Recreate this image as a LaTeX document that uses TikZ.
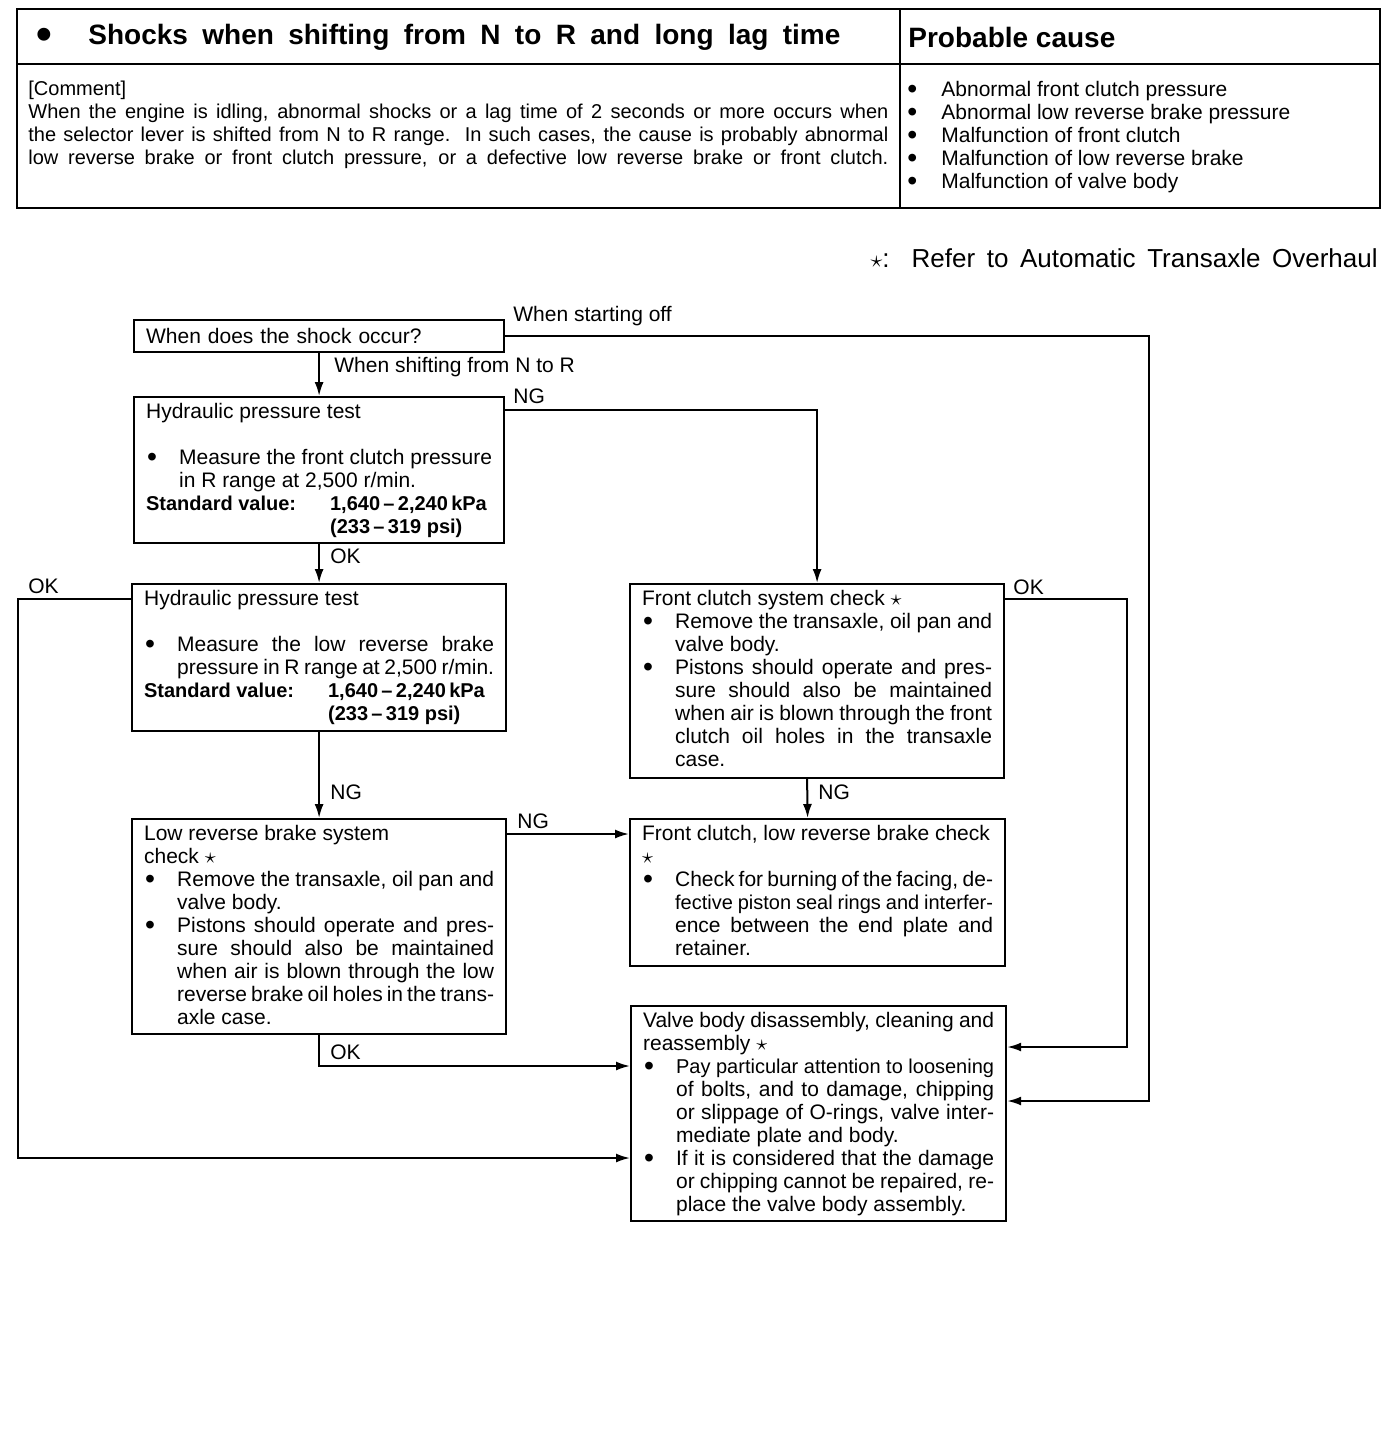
\documentclass[tikz,border=0pt]{standalone}
\usepackage{fontspec}
\setmainfont{Liberation Sans}
\usetikzlibrary{arrows.meta,positioning}

\newcommand{\bul}{\raisebox{-1.1pt}[0pt][0pt]{\scalebox{1.35}{\textbullet}}}
\newcommand{\bitem}{\par\hangindent=16.5pt\hangafter=1\noindent\hspace*{0.5pt}\makebox[16pt][l]{\bul}\ignorespaces}
\newcommand{\topbox}[3]{\parbox[t][#1][t]{#2}{\parindent=0pt #3}}
\newcommand{\tight}[1]{{\fontsize{10}{11.5}\selectfont #1}}
\newcommand{\stdval}{{\bfseries\fontsize{10}{11.5}\selectfont\makebox[92pt][l]{Standard value:}1,640\,–\,2,240\,kPa\par
  \hspace*{92pt}(233\,–\,319 psi)\par}}

\tikzset{
  chkbox/.style={draw, line width=1.1pt, anchor=north west, inner xsep=6pt, inner ysep=3pt,
    font=\fontsize{10.5}{11.5}\selectfont},
  lbl/.style={anchor=west, inner sep=0pt, font=\fontsize{10.5}{11.5}\selectfont},
  arr/.style={line width=1pt, -{Latex[length=7pt,width=4.5pt]}},
  ln/.style={line width=1.1pt},
}

\begin{document}
\begin{tikzpicture}[x=0.5pt,y=-0.5pt]
\useasboundingbox (0,0) rectangle (1392,1456);
% 表
\draw[ln] (17,9) rectangle (1380,208);
\draw[ln] (17,64) -- (1380,64);
\draw[ln] (900,9) -- (900,208);
\node[anchor=west, inner sep=0pt, font=\bfseries\fontsize{14}{16}\selectfont] (ttl) at (36,37)
  {\makebox[26pt][l]{\raisebox{-2.6pt}[0pt][0pt]{\scalebox{1.6}{\textbullet}}}\makebox[376pt][s]{Shocks when shifting from N to R and long lag time}};
\node[anchor=west, inner sep=0pt, font=\bfseries\fontsize{14}{16}\selectfont] (cause) at (908,37) {Probable cause};
\node[anchor=north west, inner sep=0pt, font=\fontsize{10}{11.5}\selectfont] (cmt) at (28,81)
  {\parbox[t]{430pt}{\parindent=0pt [Comment]\par
   {\parfillskip=0pt When the engine is idling, abnormal shocks or a lag time of 2 seconds or more occurs when\linebreak
   the selector lever is shifted from N to R range.\ \ In such cases, the cause is probably abnormal\linebreak
   low reverse brake or front clutch pressure, or a defective low reverse brake or front clutch.\par}}};
\node[anchor=north west, inner sep=0pt, font=\fontsize{10.5}{11.5}\selectfont] (causes) at (907,81)
  {\parbox[t]{230pt}{\parindent=0pt
   \makebox[17pt][l]{\bul}Abnormal front clutch pressure\\
   \makebox[17pt][l]{\bul}Abnormal low reverse brake pressure\\
   \makebox[17pt][l]{\bul}Malfunction of front clutch\\
   \makebox[17pt][l]{\bul}Malfunction of low reverse brake\\
   \makebox[17pt][l]{\bul}Malfunction of valve body}};
\node[anchor=east, inner sep=0pt, font=\fontsize{13}{15}\selectfont] (legend) at (1378,258)
  {$\star$:\hspace{11pt}\makebox[233pt][s]{Refer to Automatic Transaxle Overhaul}};

% 判定の箱
\node[chkbox, text width=173pt, minimum height=16pt, inner ysep=1pt] (qa) at (133,319) {When does the shock occur?};
\node[chkbox] (hpfront) at (133,396) {\topbox{67pt}{173pt}{%
  Hydraulic pressure test\par\mbox{}
  \bitem Measure the front clutch pressure\linebreak in R range at 2,500 r/min.\par
  \stdval}};
\node[chkbox] (hplow) at (131,583) {\topbox{67.5pt}{175pt}{%
  Hydraulic pressure test\par\mbox{}
  \bitem Measure the low reverse brake\linebreak pressure in R range at 2,500 r/min.\par
  \stdval}};
\node[chkbox] (fcsys) at (629,583) {\topbox{91pt}{175pt}{%
  Front clutch system check $\star$
  \bitem Remove the transaxle, oil pan and\linebreak valve body.
  \bitem Pistons should operate and pres-\linebreak sure should also be maintained\linebreak
  when air is blown through the front\linebreak clutch oil holes in the transaxle\linebreak case.}};
\node[chkbox] (lrsys) at (131,818) {\topbox{101.5pt}{175pt}{%
  Low reverse brake system\\ check $\star$
  \bitem Remove the transaxle, oil pan and\linebreak valve body.
  \bitem Pistons should operate and pres-\linebreak sure should also be maintained\linebreak
  when air is blown through the low\linebreak reverse brake oil holes in the trans-\linebreak axle case.}};
\node[chkbox] (fclr) at (629,818) {\topbox{67.5pt}{175.5pt}{%
  Front clutch, low reverse brake check\\ $\star$
  \bitem Check for burning of the facing, de-\linebreak \tight{fective piston seal rings and interfer-}\linebreak
  ence between the end plate and\linebreak retainer.}};
\node[chkbox] (vbody) at (630,1005) {\topbox{101.5pt}{175.5pt}{%
  Valve body disassembly, cleaning and\linebreak reassembly $\star$
  \bitem \tight{Pay particular attention to loosening}\linebreak of bolts, and to damage, chipping\linebreak
  or slippage of O-rings, valve inter-\linebreak mediate plate and body.
  \bitem If it is considered that the damage\linebreak or chipping cannot be repaired, re-\linebreak
  place the valve body assembly.}};

% 矢印
\coordinate (gin1) at (vbody.east |- 0,1047);
\coordinate (gin2) at (vbody.east |- 0,1101);
\coordinate (gin3) at (vbody.west |- 0,1066);
\coordinate (gin4) at (vbody.west |- 0,1158);
\draw[arr] (qa.south) -- (hpfront.north);
\draw[arr] (qa.east) -| ([xshift=71pt]gin2) -- (gin2);
\draw[arr] (hpfront.east |- 0,410) -| (fcsys.north);
\draw[arr] (hpfront.south) -- (hplow.north);
\draw[arr] (hplow.south) -- (lrsys.north);
\draw[arr] (hplow.west |- 0,599) -| ([xshift=-306pt]gin4) -- (gin4);
\draw[arr] ([xshift=-5pt]fcsys.south) -- ([xshift=-5pt]fclr.north);
\draw[arr] (fcsys.east |- 0,599) -| ([xshift=60pt]gin1) -- (gin1);
\draw[arr] (lrsys.east |- 0,834) -- (fclr.west |- 0,834);
\draw[arr] (lrsys.south) |- (gin3);

% ラベル
\node[lbl] (lstart) at (513,316) {When starting off};
\node[lbl] (lshift) at (334,367) {When shifting from N to R};
\node[lbl] (lng1) at (513,396) {NG};
\node[lbl] (lok1) at (330,556) {OK};
\node[lbl] (lok2) at (28,586) {OK};
\node[lbl] (lng2) at (330,792) {NG};
\node[lbl] (lng3) at (818,792) {NG};
\node[lbl] (lok3) at (1013,587) {OK};
\node[lbl] (lng4) at (517,821) {NG};
\node[lbl] (lok4) at (330,1052) {OK};
\end{tikzpicture}
\end{document}
